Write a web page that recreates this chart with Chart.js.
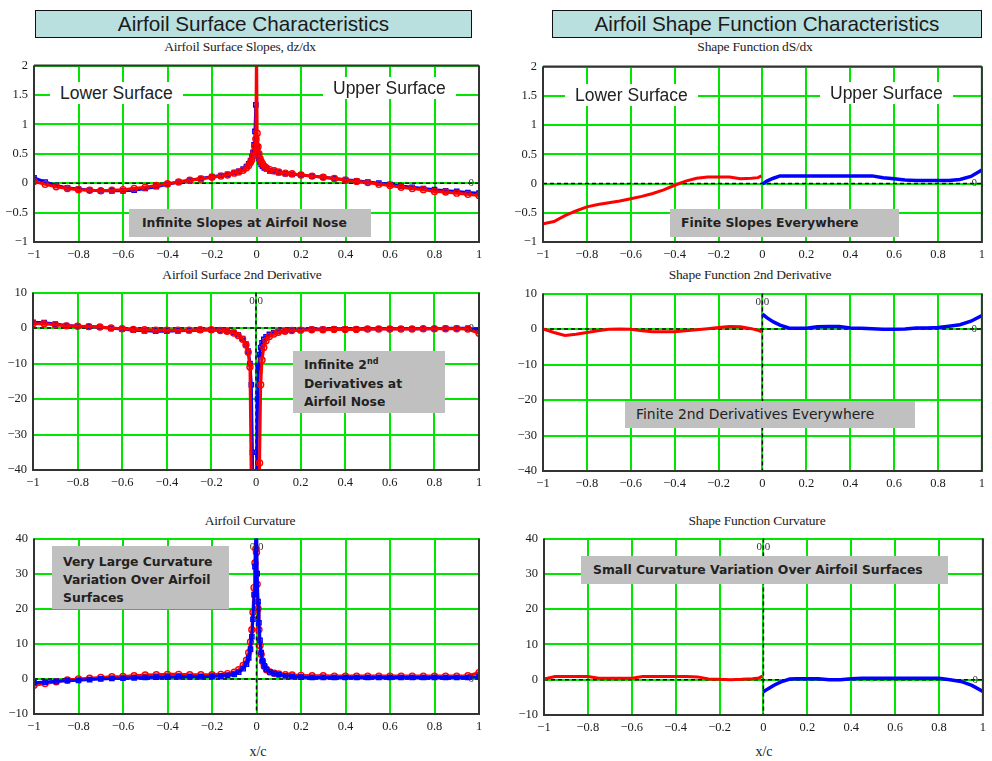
<!DOCTYPE html>
<html>
<head>
<meta charset="utf-8">
<script src="https://cdn.jsdelivr.net/npm/chart.js@4.4.1/dist/chart.umd.min.js"></script>
<style>
html, body { margin:0; padding:0; background:#fff; overflow:hidden; }
body { width:992px; height:761px; position:relative; font-family:"Liberation Sans", Arial, sans-serif; color:#1a1a1a; }
canvas { position:absolute; }
.head { position:absolute; top:10px; height:26px; line-height:26px; background:#b9dfdf; border:1px solid #111; font-size:20.7px; text-align:center; }
.sub { position:absolute; font-family:"Liberation Serif", serif; font-size:13.5px; color:#222; transform:translateX(-50%); white-space:nowrap; letter-spacing:-0.2px; }
.note { position:absolute; background:#c0c0c0; font-family:"DejaVu Sans", sans-serif; font-weight:bold; font-size:12.4px; white-space:nowrap; box-sizing:border-box; z-index:2; color:#222; }
.surf { position:absolute; background:#fff; font-size:17.5px; height:22px; line-height:22px; padding:0 10px; color:#222; z-index:2; }
.xc { position:absolute; top:744px; font-family:"Liberation Serif", serif; font-size:14px; transform:translateX(-50%); }
sup { font-size:8px; line-height:0; }
</style>
</head>
<body>

<div class="head" style="left:35px;width:435px">Airfoil Surface Characteristics</div>
<div class="head" style="left:552px;width:428px">Airfoil Shape Function Characteristics</div>

<div class="sub" style="left:240px;top:39px">Airfoil Surface Slopes, dz/dx</div>
<div class="sub" style="left:755px;top:39px">Shape Function dS/dx</div>
<div class="sub" style="left:242px;top:267px">Airfoil Surface 2nd Derivative</div>
<div class="sub" style="left:750px;top:267px">Shape Function 2nd Derivative</div>
<div class="sub" style="left:250px;top:513px">Airfoil Curvature</div>
<div class="sub" style="left:757px;top:513px">Shape Function Curvature</div>

<div class="surf" style="left:50px;top:82px">Lower Surface</div>
<div class="surf" style="left:323px;top:77px">Upper Surface</div>
<div class="surf" style="left:565px;top:84px">Lower Surface</div>
<div class="surf" style="left:820px;top:82px">Upper Surface</div>

<div class="note" style="left:129px;top:209px;width:242px;height:28px;line-height:28px;padding-left:13px">Infinite Slopes at Airfoil Nose</div>
<div class="note" style="left:670px;top:209px;width:229px;height:28px;line-height:28px;padding-left:11px">Finite Slopes Everywhere</div>
<div class="note" style="left:293px;top:351px;width:152px;height:62px;line-height:18.5px;padding:5px 0 0 11px">Infinite 2<sup>nd</sup><br>Derivatives at<br>Airfoil Nose</div>
<div class="note" style="left:625px;top:401px;width:290px;height:27px;line-height:27px;padding-left:11px;font-weight:normal;font-size:13.9px">Finite 2nd Derivatives Everywhere</div>
<div class="note" style="left:52px;top:546px;width:177px;height:63px;line-height:18px;padding:7px 0 0 11px">Very Large Curvature<br>Variation Over Airfoil<br>Surfaces</div>
<div class="note" style="left:581px;top:556px;width:367px;height:28px;line-height:28px;padding-left:12px">Small Curvature Variation Over Airfoil  Surfaces</div>

<div class="xc" style="left:258px">x/c</div>
<div class="xc" style="left:764px">x/c</div>

<script>
// surface stations, lower surface negative, nose at 0, upper surface positive
var surfX = [-1, -0.95, -0.9, -0.85, -0.8, -0.75, -0.7, -0.65, -0.6, -0.55, -0.5, -0.45, -0.4, -0.35, -0.3, -0.25, -0.2,
  -0.16, -0.13, -0.1, -0.08, -0.06, -0.045, -0.035, -0.027, -0.021, -0.016, -0.011, -0.007, -0.003,
  0,
  0.003, 0.007, 0.011, 0.016, 0.021, 0.027, 0.035, 0.045, 0.06, 0.08, 0.1, 0.13, 0.16,
  0.2, 0.25, 0.3, 0.35, 0.4, 0.45, 0.5, 0.55, 0.6, 0.65, 0.7, 0.75, 0.8, 0.85, 0.9, 0.95, 1];

// slopes dz/dx
var slopeRed = [0.03, -0.02, -0.06, -0.09, -0.11, -0.12, -0.13, -0.12, -0.11, -0.09, -0.07, -0.04, -0.01, 0.02, 0.05, 0.07, 0.1,
  0.12, 0.14, 0.17, 0.19, 0.22, 0.26, 0.3, 0.35, 0.4, 0.46, 0.53, 0.62, 0.75,
  2.4,
  0.85, 0.62, 0.5, 0.42, 0.37, 0.33, 0.29, 0.26, 0.23, 0.21, 0.19, 0.17, 0.16,
  0.14, 0.12, 0.1, 0.08, 0.05, 0.03, 0.01, -0.02, -0.04, -0.07, -0.09, -0.11, -0.14, -0.15, -0.17, -0.19, -0.21];
var slopeBlue = [0.09, 0.02, -0.04, -0.08, -0.1, -0.12, -0.13, -0.13, -0.13, -0.12, -0.09, -0.06, -0.02, 0.02, 0.05, 0.08, 0.11,
  0.13, 0.15, 0.18, 0.2, 0.24, 0.28, 0.33, 0.38, 0.45, 0.52, 0.65, 0.88, 1.33,
  0.75,
  0.62, 0.5, 0.42, 0.36, 0.32, 0.29, 0.26, 0.24, 0.21, 0.2, 0.18, 0.16, 0.15,
  0.14, 0.12, 0.1, 0.08, 0.06, 0.04, 0.02, 0.0, -0.02, -0.05, -0.07, -0.09, -0.11, -0.13, -0.14, -0.16, -0.17];

// second derivative d2z/dx2
var d2Red = [1.2, 1.2, 0.9, 0.6, 0.5, 0.4, 0.3, 0.0, -0.2, -0.4, -0.5, -0.6, -0.6, -0.6, -0.6, -0.5, -0.5,
  -0.7, -0.9, -1.4, -2.1, -3.2, -4.8, -6.8, -11, -45, -60, -60, -60, -60,
  -60,
  -60, -60, -60, -38, -16, -9, -5.5, -3.6, -2.4, -1.7, -1.2, -0.9, -0.7,
  -0.6, -0.5, -0.5, -0.4, -0.4, -0.4, -0.3, -0.3, -0.3, -0.3, -0.3, -0.2, -0.2, -0.2, -0.2, -0.3, -1.5];
var d2Blue = [1.6, 1.5, 1.1, 0.7, 0.5, 0.4, 0.2, -0.1, -0.3, -0.6, -0.8, -0.9, -0.9, -0.8, -0.7, -0.6, -0.5,
  -0.6, -0.8, -1.2, -1.9, -3.0, -4.5, -6.5, -10, -16, -35, -60, -60, -60,
  -60,
  -45, -20, -11, -7.5, -5.5, -4.2, -3.2, -2.5, -1.8, -1.3, -1.0, -0.8, -0.6,
  -0.5, -0.4, -0.4, -0.3, -0.3, -0.3, -0.3, -0.2, -0.2, -0.2, -0.2, -0.2, -0.2, -0.1, -0.1, -0.1, -0.7];

// curvature
var curvRed = [-1.8, -1.3, -0.8, -0.3, 0.0, 0.2, 0.4, 0.6, 0.7, 0.9, 1.1, 1.2, 1.3, 1.3, 1.2, 1.2, 1.2,
  1.3, 1.5, 1.9, 2.6, 3.8, 5.3, 7.5, 10.5, 14, 19, 26, 33, 37,
  36,
  27, 20, 14, 9.5, 7, 5, 3.6, 2.6, 2.0, 1.6, 1.4, 1.2, 1.1,
  1.0, 0.9, 0.9, 0.8, 0.8, 0.8, 0.8, 0.8, 0.8, 0.8, 0.8, 0.8, 0.8, 0.8, 0.8, 0.9, 1.8];
var curvBlue = [-1.1, -0.9, -0.7, -0.5, -0.4, -0.2, 0.0, 0.1, 0.2, 0.3, 0.4, 0.5, 0.5, 0.6, 0.6, 0.6, 0.7,
  0.8, 1.0, 1.3, 1.9, 2.9, 4.2, 6, 8.5, 12, 17, 24, 32, 42,
  48,
  30, 22, 16, 11, 7.5, 5.2, 3.7, 2.7, 2.0, 1.5, 1.2, 0.9, 0.7,
  0.5, 0.4, 0.4, 0.4, 0.4, 0.4, 0.4, 0.4, 0.4, 0.4, 0.4, 0.4, 0.4, 0.4, 0.4, 0.4, 0.6];

// shape function stations
var shapeXLower = [-1, -0.95, -0.9, -0.85, -0.8, -0.75, -0.7, -0.65, -0.6, -0.55, -0.5, -0.45, -0.4, -0.35, -0.3, -0.25, -0.2, -0.15, -0.1, -0.05, -0.02, -0.005];
var shapeXUpper = [0, 0.02, 0.05, 0.08, 0.12, 0.15, 0.2, 0.25, 0.3, 0.35, 0.4, 0.45, 0.5, 0.55, 0.6, 0.65, 0.7, 0.75, 0.8, 0.85, 0.9, 0.95, 1];

var dSLower = [-0.69, -0.65, -0.55, -0.47, -0.4, -0.36, -0.33, -0.3, -0.26, -0.22, -0.17, -0.11, -0.03, 0.04, 0.09, 0.11, 0.11, 0.11, 0.08, 0.09, 0.1, 0.13];
var dSUpper = [-0.01, 0.04, 0.09, 0.13, 0.13, 0.13, 0.13, 0.13, 0.13, 0.13, 0.13, 0.13, 0.13, 0.1, 0.08, 0.06, 0.05, 0.05, 0.05, 0.05, 0.07, 0.12, 0.23];

var d2SLower = [0, -1.0, -1.8, -1.5, -1.0, -0.5, -0.1, 0, -0.1, -0.5, -0.8, -0.8, -0.8, -0.5, -0.2, 0.1, 0.4, 0.7, 0.6, 0.1, -0.4, -0.7];
var d2SUpper = [4.2, 3.2, 2.0, 1.1, 0.3, 0.2, 0.2, 0.6, 0.7, 0.7, 0.3, 0.2, 0.1, -0.1, -0.1, 0, 0.3, 0.3, 0.4, 0.8, 1.2, 2.2, 3.8];

var kSLower = [0.2, 0.9, 0.9, 0.9, 0.9, 0.4, 0.4, 0.4, 0.4, 0.9, 0.9, 0.9, 0.9, 0.9, 0.8, 0.2, 0.1, 0.0, 0.1, 0.3, 0.5, 1.0];
var kSUpper = [-3.4, -2.6, -1.5, -0.6, 0.2, 0.3, 0.3, 0.3, 0.0, 0.0, 0.3, 0.4, 0.4, 0.4, 0.4, 0.4, 0.4, 0.4, 0.4, 0.0, -0.5, -1.6, -3.3];

var xTicks = { min: -1, max: 1, step: 0.2 };
var slopeTicks = { min: -1, max: 2, step: 0.5 };
var d2Ticks = { min: -40, max: 10, step: 10 };
var curvTicks = { min: -10, max: 40, step: 10 };

function pts(xs, ys) {
  return xs.map(function (v, i) { return { x: v, y: ys[i] }; });
}

function fmt(v) {
  var s = String(Number(v.toFixed(2)));
  return s.charAt(0) === '-' ? '\u2212' + s.slice(1) : s;
}

function marked(xs, ys, color, style) {
  return { data: pts(xs, ys), borderColor: color, borderWidth: 3, pointStyle: style,
    pointRadius: 3, pointBorderWidth: 1.4, pointBorderColor: color, pointBackgroundColor: 'rgba(255,255,255,0)' };
}

function plain(xs, ys, color, w) {
  return { data: pts(xs, ys), borderColor: color, borderWidth: w, pointRadius: 0 };
}

// dashed zero lines, plot frame and the small zero markers
var guides = {
  id: 'guides',
  beforeDatasetsDraw: function (chart, args, o) {
    var ctx = chart.ctx, a = chart.chartArea, x = chart.scales.x, y = chart.scales.y;
    ctx.save();
    ctx.strokeStyle = '#111';
    ctx.lineWidth = 1.5;
    ctx.setLineDash([4, 3]);
    var y0 = y.getPixelForValue(0);
    ctx.beginPath(); ctx.moveTo(a.left, y0); ctx.lineTo(a.right, y0); ctx.stroke();
    if (o.vline) {
      var x0 = x.getPixelForValue(0);
      ctx.beginPath(); ctx.moveTo(x0, a.top); ctx.lineTo(x0, a.bottom); ctx.stroke();
    }
    ctx.restore();
  },
  afterDatasetsDraw: function (chart, args, o) {
    var ctx = chart.ctx, a = chart.chartArea, x = chart.scales.x, y = chart.scales.y;
    ctx.save();
    ctx.strokeStyle = '#333';
    ctx.lineWidth = 2;
    ctx.beginPath();
    if (o.topDark) { ctx.moveTo(a.left, a.top); ctx.lineTo(a.right, a.top); }
    ctx.moveTo(a.left, a.top); ctx.lineTo(a.left, a.bottom); ctx.lineTo(a.right, a.bottom); ctx.lineTo(a.right, a.top);
    ctx.stroke();
    ctx.fillStyle = '#333';
    ctx.font = '11px "Liberation Serif", serif';
    ctx.textAlign = 'center';
    ctx.textBaseline = 'middle';
    ctx.fillText('0', x.getPixelForValue(0.965), y.getPixelForValue(0));
    if (o.vline) {
      ctx.textBaseline = 'top';
      ctx.fillText('0.0', x.getPixelForValue(0), a.top + 3);
    }
    ctx.restore();
  }
};

var panels = [
  { left: 34, right: 479, top: 62, bottom: 242, ticks: slopeTicks, topDark: true, vline: false,
    sets: [marked(surfX, slopeRed, '#ff0000', 'circle'), marked(surfX, slopeBlue, '#0000ff', 'rect')] },
  { left: 543, right: 987, top: 63, bottom: 242, ticks: slopeTicks, topDark: true, vline: false,
    sets: [plain(shapeXLower, dSLower, '#ff0000', 3), plain(shapeXUpper, dSUpper, '#0000ff', 3.5)] },
  { left: 33, right: 479, top: 289, bottom: 470, ticks: d2Ticks, topDark: false, vline: true,
    sets: [marked(surfX, d2Red, '#ff0000', 'circle'), marked(surfX, d2Blue, '#0000ff', 'rect')] },
  { left: 543, right: 987, top: 290, bottom: 471, ticks: d2Ticks, topDark: false, vline: true,
    sets: [plain(shapeXLower, d2SLower, '#ff0000', 3), plain(shapeXUpper, d2SUpper, '#0000ff', 3.5)] },
  { left: 34, right: 479, top: 535, bottom: 714, ticks: curvTicks, topDark: false, vline: true,
    sets: [marked(surfX, curvBlue, '#0000ff', 'rect'), marked(surfX, curvRed, '#ff0000', 'circle')] },
  { left: 544, right: 988, top: 535, bottom: 715, ticks: curvTicks, topDark: false, vline: true,
    sets: [plain(shapeXLower, kSLower, '#ff0000', 3), plain(shapeXUpper, kSUpper, '#0000ff', 3.5)] }
];

var tickFont = { family: '"Liberation Serif", serif', size: 12.5 };

panels.forEach(function (p) {
  var padL = 44, padT = 10, padB = 24, padR = p.left > 500 ? 3 : 10;
  var w = p.right - p.left + padL + padR, h = p.bottom - p.top + padT + padB;
  var c = document.createElement('canvas');
  c.width = w; c.height = h;
  c.style.width = w + 'px'; c.style.height = h + 'px';
  c.style.left = (p.left - padL) + 'px'; c.style.top = (p.top - padT) + 'px';
  document.body.appendChild(c);

  new Chart(c, {
    type: 'line',
    data: { datasets: p.sets },
    options: {
      responsive: false,
      animation: false,
      layout: { padding: { top: padT, right: padR, left: 0, bottom: 0 } },
      elements: { line: { tension: 0 } },
      scales: {
        x: {
          type: 'linear', min: xTicks.min, max: xTicks.max,
          afterFit: function (s) { s.height = padB; },
          grid: { color: '#00e600', lineWidth: 2, drawTicks: false },
          border: { display: false },
          ticks: { stepSize: xTicks.step, padding: 5, autoSkip: false, maxRotation: 0, color: '#1a1a1a', font: tickFont, callback: fmt }
        },
        y: {
          type: 'linear', min: p.ticks.min, max: p.ticks.max,
          afterFit: function (s) { s.width = padL; },
          grid: { color: '#00e600', lineWidth: 2, drawTicks: false },
          border: { display: false },
          ticks: { stepSize: p.ticks.step, padding: 6, color: '#1a1a1a', font: tickFont, callback: fmt }
        }
      },
      plugins: {
        legend: { display: false },
        tooltip: { enabled: false },
        guides: { topDark: p.topDark, vline: p.vline }
      }
    },
    plugins: [guides]
  });
});
</script>
</body>
</html>
